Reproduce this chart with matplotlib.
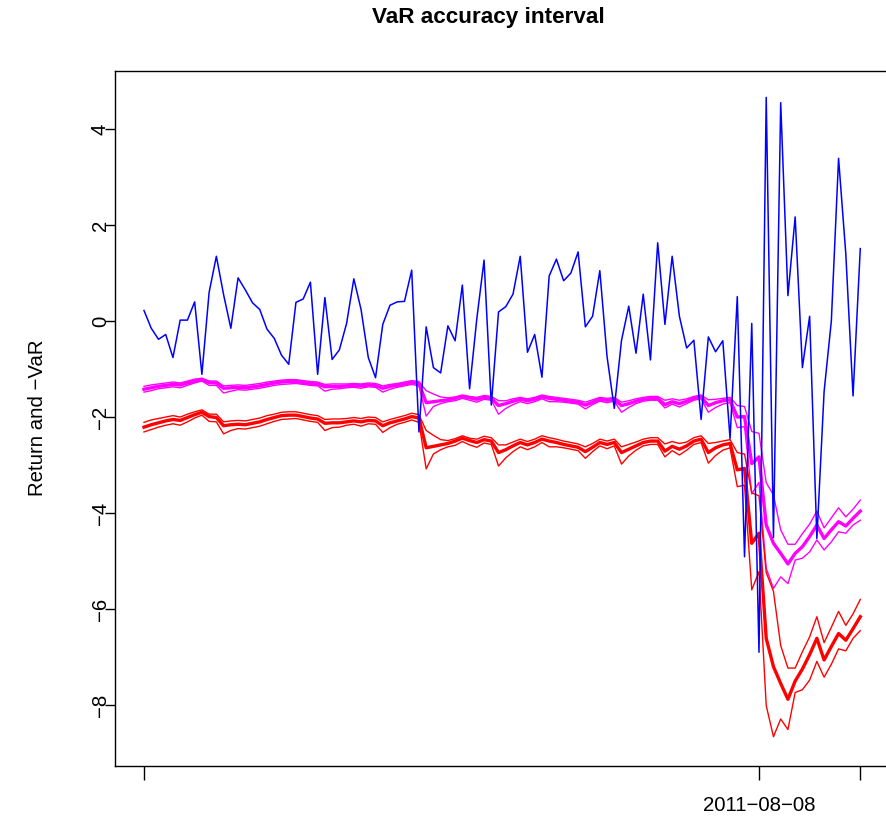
import matplotlib
matplotlib.use("Agg")
import matplotlib.pyplot as plt
import numpy as np

# ---------------- data ----------------
ret = [0.22, -0.15, -0.38, -0.28, -0.76, 0.02, 0.02, 0.40, -1.11, 0.60,
       1.35, 0.55, -0.15, 0.90, 0.65, 0.38, 0.24, -0.17, -0.36, -0.71,
       -0.90, 0.39, 0.46, 0.81, -1.11, 0.49, -0.80, -0.60, -0.05, 0.88,
       0.24, -0.76, -1.18, -0.07, 0.33, 0.40, 0.41, 1.06, -2.31, -0.12,
       -0.97, -1.08, -0.10, -0.41, 0.75, -1.41, 0.05, 1.27, -1.75, 0.19,
       0.30, 0.56, 1.35, -0.65, -0.28, -1.17, 0.94, 1.29, 0.84, 1.00,
       1.44, -0.12, 0.10, 1.05, -0.74, -1.82, -0.40, 0.31, -0.67, 0.56,
       -0.81, 1.63, -0.07, 1.35, 0.10, -0.56, -0.40, -2.05, -0.33, -0.64,
       -0.41, -2.45, 0.51, -4.91, -0.05, -6.90, 4.66, -4.51, 4.55, 0.53,
       2.17, -0.97, 0.10, -4.53, -1.47, 0.00, 3.39, 1.40, -1.56, 1.51]

var_mag = [-1.42, -1.39, -1.36, -1.34, -1.32, -1.33, -1.29, -1.25, -1.22, -1.28,
           -1.29, -1.40, -1.39, -1.38, -1.39, -1.37, -1.35, -1.32, -1.29, -1.27,
           -1.26, -1.26, -1.28, -1.30, -1.31, -1.37, -1.36, -1.36, -1.35, -1.34,
           -1.35, -1.33, -1.34, -1.40, -1.36, -1.34, -1.31, -1.28, -1.30, -1.70,
           -1.68, -1.66, -1.64, -1.61, -1.57, -1.60, -1.63, -1.59, -1.61, -1.76,
           -1.72, -1.67, -1.63, -1.66, -1.63, -1.58, -1.61, -1.63, -1.65, -1.67,
           -1.69, -1.75, -1.69, -1.63, -1.65, -1.63, -1.76, -1.72, -1.67, -1.63,
           -1.61, -1.61, -1.74, -1.68, -1.72, -1.67, -1.61, -1.58, -1.76, -1.70,
           -1.66, -1.64, -2.00, -1.99, -2.97, -2.83, -4.25, -4.63, -4.84, -5.06,
           -4.84, -4.70, -4.49, -4.25, -4.53, -4.35, -4.18, -4.27, -4.11, -3.96]

var_mag_up = [-1.36, -1.33, -1.31, -1.29, -1.27, -1.29, -1.25, -1.21, -1.19, -1.25,
              -1.25, -1.35, -1.34, -1.33, -1.34, -1.32, -1.30, -1.27, -1.25, -1.23,
              -1.22, -1.22, -1.24, -1.26, -1.27, -1.32, -1.31, -1.31, -1.31, -1.30,
              -1.31, -1.29, -1.30, -1.35, -1.32, -1.30, -1.27, -1.24, -1.26, -1.45,
              -1.52, -1.58, -1.60, -1.58, -1.54, -1.57, -1.59, -1.55, -1.57, -1.66,
              -1.66, -1.62, -1.59, -1.62, -1.59, -1.54, -1.57, -1.59, -1.61, -1.63,
              -1.65, -1.69, -1.64, -1.59, -1.61, -1.59, -1.69, -1.66, -1.62, -1.59,
              -1.57, -1.57, -1.65, -1.62, -1.65, -1.62, -1.57, -1.54, -1.64, -1.63,
              -1.61, -1.59, -1.76, -1.78, -2.30, -2.34, -3.37, -3.62, -4.35, -4.65,
              -4.65, -4.43, -4.23, -3.96, -4.31, -4.10, -3.89, -4.08, -3.92, -3.73]

var_mag_lo = [-1.48, -1.45, -1.41, -1.39, -1.37, -1.39, -1.34, -1.29, -1.25, -1.34,
              -1.34, -1.50, -1.46, -1.43, -1.44, -1.42, -1.40, -1.37, -1.34, -1.32,
              -1.31, -1.30, -1.32, -1.34, -1.35, -1.46, -1.42, -1.41, -1.39, -1.38,
              -1.40, -1.37, -1.38, -1.48, -1.42, -1.38, -1.35, -1.32, -1.35, -1.98,
              -1.78, -1.72, -1.68, -1.66, -1.61, -1.65, -1.69, -1.63, -1.65, -1.94,
              -1.82, -1.74, -1.68, -1.72, -1.68, -1.62, -1.68, -1.68, -1.69, -1.71,
              -1.73, -1.83, -1.74, -1.67, -1.70, -1.67, -1.90, -1.80, -1.72, -1.67,
              -1.65, -1.65, -1.81, -1.73, -1.79, -1.72, -1.65, -1.62, -1.90, -1.80,
              -1.73, -1.70, -2.22, -2.20, -3.60, -3.36, -5.15, -5.57, -5.33, -5.47,
              -4.98, -4.94, -4.81, -4.56, -4.77, -4.60, -4.39, -4.42, -4.25, -4.15]

var_red = [-2.21, -2.16, -2.12, -2.08, -2.05, -2.07, -2.01, -1.95, -1.90, -1.99,
           -2.01, -2.18, -2.16, -2.15, -2.16, -2.13, -2.10, -2.05, -2.01, -1.97,
           -1.96, -1.96, -1.99, -2.02, -2.04, -2.13, -2.12, -2.12, -2.10, -2.08,
           -2.10, -2.07, -2.08, -2.18, -2.12, -2.08, -2.04, -1.99, -2.02, -2.64,
           -2.61, -2.58, -2.55, -2.50, -2.44, -2.49, -2.53, -2.47, -2.50, -2.74,
           -2.68, -2.60, -2.53, -2.58, -2.53, -2.46, -2.50, -2.53, -2.57, -2.60,
           -2.63, -2.72, -2.63, -2.53, -2.57, -2.53, -2.74, -2.67, -2.60, -2.53,
           -2.50, -2.50, -2.71, -2.61, -2.67, -2.60, -2.50, -2.46, -2.74, -2.64,
           -2.58, -2.55, -3.10, -3.07, -4.63, -4.42, -6.61, -7.20, -7.55, -7.88,
           -7.50, -7.25, -6.95, -6.61, -7.06, -6.78, -6.51, -6.65, -6.41, -6.16]

var_red_up = [-2.11, -2.06, -2.03, -2.00, -1.97, -2.00, -1.94, -1.89, -1.85, -1.94,
              -1.94, -2.10, -2.08, -2.07, -2.08, -2.05, -2.02, -1.97, -1.94, -1.90,
              -1.89, -1.89, -1.92, -1.95, -1.97, -2.05, -2.04, -2.04, -2.03, -2.01,
              -2.03, -2.00, -2.01, -2.10, -2.05, -2.01, -1.97, -1.92, -1.95, -2.28,
              -2.38, -2.47, -2.49, -2.45, -2.39, -2.44, -2.46, -2.40, -2.43, -2.58,
              -2.58, -2.52, -2.46, -2.51, -2.46, -2.39, -2.43, -2.46, -2.50, -2.53,
              -2.56, -2.62, -2.55, -2.46, -2.50, -2.46, -2.62, -2.57, -2.52, -2.46,
              -2.43, -2.43, -2.56, -2.51, -2.55, -2.52, -2.43, -2.39, -2.55, -2.53,
              -2.50, -2.47, -2.74, -2.77, -3.58, -3.64, -5.24, -5.63, -6.76, -7.23,
              -7.23, -6.89, -6.58, -6.16, -6.70, -6.38, -6.05, -6.34, -6.10, -5.80]

var_red_lo = [-2.31, -2.26, -2.21, -2.17, -2.14, -2.17, -2.10, -2.02, -1.96, -2.09,
              -2.10, -2.35, -2.28, -2.24, -2.25, -2.22, -2.19, -2.14, -2.09, -2.05,
              -2.04, -2.03, -2.06, -2.09, -2.11, -2.28, -2.22, -2.21, -2.17, -2.15,
              -2.19, -2.14, -2.15, -2.32, -2.22, -2.15, -2.11, -2.06, -2.11, -3.08,
              -2.77, -2.68, -2.62, -2.59, -2.51, -2.58, -2.63, -2.54, -2.57, -3.02,
              -2.85, -2.72, -2.62, -2.68, -2.62, -2.53, -2.62, -2.62, -2.64, -2.67,
              -2.70, -2.86, -2.72, -2.60, -2.66, -2.60, -2.98, -2.81, -2.69, -2.60,
              -2.57, -2.57, -2.83, -2.70, -2.79, -2.69, -2.57, -2.53, -2.96, -2.80,
              -2.69, -2.64, -3.45, -3.42, -5.60, -5.22, -8.01, -8.66, -8.29, -8.51,
              -7.74, -7.68, -7.48, -7.09, -7.42, -7.15, -6.83, -6.87, -6.61, -6.45]

x_tick_pos = [0, 85, 99]
x_tick_labels = ["", "2011\u221208\u221208", ""]
y_ticks = [-8, -6, -4, -2, 0, 2, 4]

title = "VaR accuracy interval"
ylabel = "Return and \u2212VaR"

# ---------------- figure ----------------
plt.rcParams['font.family'] = ['Liberation Sans', 'DejaVu Sans']
W, H = 886, 821
fig = plt.figure(figsize=(W / 100, H / 100), dpi=100)
fig.patch.set_facecolor('white')

L, R, T, B = 115, 889, 71, 766
ax = fig.add_axes([L / W, 1 - B / H, (R - L) / W, (B - T) / H])

x = np.arange(len(ret))
thin = 1.0
thick = 2.4
ax.plot(x, var_mag_up, color='#FF00FF', lw=thin, zorder=2)
ax.plot(x, var_mag_lo, color='#FF00FF', lw=thin, zorder=2)
ax.plot(x, var_mag, color='#FF00FF', lw=thick, zorder=2)
ax.plot(x, var_red_up, color='#FF0000', lw=thin, zorder=2)
ax.plot(x, var_red_lo, color='#FF0000', lw=thin, zorder=2)
ax.plot(x, var_red, color='#FF0000', lw=thick, zorder=2)
ax.plot(x, ret, color='#0000FF', lw=1.1, zorder=3)

ax.set_xlim(-4.01, 102.97)
ax.set_ylim(-9.27, 5.21)

for s in ax.spines.values():
    s.set_linewidth(1.0)
    s.set_color('black')

ax.set_xticks(x_tick_pos)
ax.set_xticklabels(x_tick_labels)
ax.set_yticks(y_ticks)
ax.set_yticklabels([str(v).replace('-', '\u2212') for v in y_ticks])
ax.tick_params(axis='both', direction='out', width=1.0,
               labelsize=14.7, colors='black')
ax.tick_params(axis='x', length=10, pad=11.5)
ax.tick_params(axis='y', length=7, pad=3.5)
for lab in ax.get_yticklabels():
    lab.set_rotation(90)
    lab.set_va('center')
    lab.set_ha('center')

fig.text(488 / W, 1 - 18 / H, title, ha='center', va='center',
         fontsize=16.2, fontweight='bold')
fig.text(38 / W, 1 - 418 / H, ylabel, ha='center', va='center',
         rotation=90, fontsize=14.7)

fig.savefig('out.png', dpi=100)
